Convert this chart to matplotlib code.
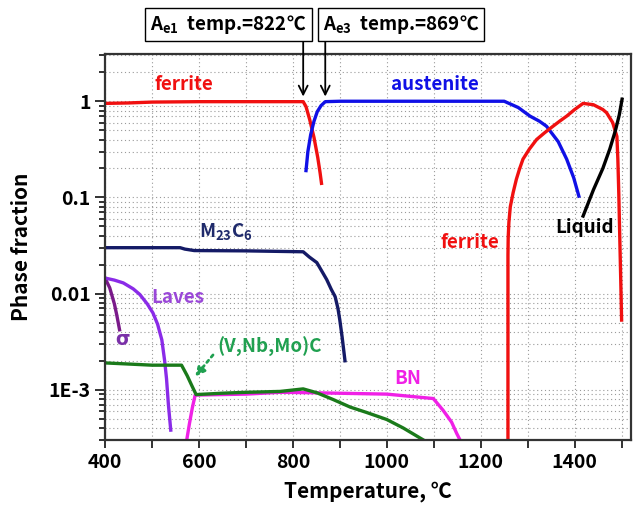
import matplotlib
matplotlib.use('Agg')
import matplotlib.pyplot as plt
from matplotlib.ticker import FixedLocator, LogLocator, NullFormatter, FixedFormatter

plt.rcParams['font.family'] = ['Noto Sans CJK KR', 'DejaVu Sans']
plt.rcParams['font.weight'] = 'bold'
plt.rcParams['mathtext.fontset'] = 'custom'
plt.rcParams['mathtext.rm'] = 'Noto Sans CJK KR:bold'
plt.rcParams['mathtext.bf'] = 'Noto Sans CJK KR:bold'
plt.rcParams['mathtext.it'] = 'Noto Sans CJK KR:bold'

# ---------------- data ----------------
ferrite_low_T = [400, 450, 500, 600, 700, 800, 822, 828, 836, 845, 853, 858, 861]
ferrite_low_f = [0.95, 0.96, 0.98, 0.99, 0.99, 0.99, 0.99, 0.88, 0.64, 0.42, 0.26, 0.18, 0.14]

austenite_T = [828, 832, 838, 845, 852, 860, 869, 900, 1000, 1100, 1200, 1250,
               1280, 1305, 1325, 1340, 1365, 1383, 1398, 1409]
austenite_f = [0.19, 0.3, 0.45, 0.62, 0.78, 0.9, 0.99, 1.0, 1.0, 1.0, 1.0, 1.0,
               0.86, 0.70, 0.62, 0.55, 0.38, 0.25, 0.16, 0.103]

ferrite_high_T = [1258, 1258, 1258, 1258.5, 1260, 1263, 1269, 1276, 1283, 1290, 1304,
                  1319, 1336, 1354, 1368, 1383, 1400, 1418, 1440, 1460, 1468, 1481,
                  1490, 1492, 1494, 1496, 1498, 1500]
ferrite_high_f = [3.0e-4, 0.003, 0.025, 0.038, 0.055, 0.08, 0.112, 0.155, 0.2, 0.25, 0.32,
                  0.4, 0.47, 0.55, 0.62, 0.70, 0.82, 0.95, 0.92, 0.82, 0.76, 0.6,
                  0.43, 0.25, 0.11, 0.04, 0.015, 0.0053]

liquid_T = [1418, 1440, 1460, 1475, 1487, 1495, 1501]
liquid_f = [0.064, 0.12, 0.2, 0.32, 0.5, 0.72, 1.05]

m23c6_T = [400, 560, 570, 590, 700, 822, 835, 851, 862, 872, 882, 890, 896, 900, 905, 911]
m23c6_f = [0.030, 0.030, 0.029, 0.028, 0.0278, 0.0272, 0.024, 0.021, 0.017, 0.014,
           0.011, 0.0093, 0.007, 0.0053, 0.0035, 0.0020]

laves_T = [400, 420, 439, 460, 474, 490, 502, 512, 521, 527, 531, 535, 540]
laves_f = [0.0145, 0.0138, 0.0129, 0.0112, 0.0098, 0.0078, 0.0063, 0.0048, 0.0033,
           0.0020, 0.0013, 0.0007, 0.00038]

sigma_T = [400, 410, 420, 425, 431]
sigma_f = [0.0145, 0.0115, 0.0078, 0.006, 0.0042]

mc_T = [400, 450, 500, 563, 575, 585, 594, 650, 700, 773, 822, 851, 886, 922, 957,
        1000, 1035, 1078]
mc_f = [0.0019, 0.00185, 0.0018, 0.0018, 0.0014, 0.0011, 0.00089, 0.00092, 0.00094,
        0.00096, 0.00102, 0.00093, 0.00079, 0.00066, 0.00058, 0.00049, 0.0004, 0.0003]

bn_T = [574, 580, 586, 592, 700, 773, 843, 1000, 1099, 1120, 1138, 1149, 1156]
bn_f = [0.0003, 0.00045, 0.00065, 0.00088, 0.0009, 0.00094, 0.00093, 0.0009, 0.00081,
        0.00061, 0.00046, 0.00035, 0.0003]

Ae1 = 822
Ae3 = 869

y_major = [1e-3, 1e-2, 1e-1, 1]
y_labels = ['1E-3', '0.01', '0.1', '1']
x_major = [400, 600, 800, 1000, 1200, 1400]
x_minor = [500, 700, 900, 1100, 1300, 1500]

# ---------------- figure ----------------
fig = plt.figure(figsize=(6.39, 5.08), dpi=100)
ax = fig.add_axes([105/639, 1-440/508, (631-105)/639, (440-54)/508])
ax.set_yscale('log')
ax.set_xlim(400, 1520)
ax.set_ylim(3e-4, 3.1)

ax.yaxis.set_major_locator(FixedLocator(y_major))
ax.yaxis.set_major_formatter(FixedFormatter(y_labels))
ax.yaxis.set_minor_locator(LogLocator(base=10, subs=range(2, 10)))
ax.yaxis.set_minor_formatter(NullFormatter())
ax.xaxis.set_major_locator(FixedLocator(x_major))
ax.xaxis.set_minor_locator(FixedLocator(x_minor))

ax.grid(which='both', linestyle=(0, (1, 2.5)), color='#9a9a9a', lw=0.8)
ax.set_axisbelow(True)
ax.tick_params(which='both', direction='out', width=1.3, labelsize=14, colors='#222222')
ax.tick_params(axis='y', which='major', length=7)
ax.tick_params(axis='y', which='minor', length=4)
ax.tick_params(axis='x', which='both', length=6)
for lab in ax.get_xticklabels() + ax.get_yticklabels():
    lab.set_fontweight('bold')
    lab.set_color('black')
for s in ax.spines.values():
    s.set_linewidth(1.6)
    s.set_color('#333333')

lw = 2.4
ax.plot(ferrite_low_T, ferrite_low_f, color='#f01010', lw=lw)
ax.plot(austenite_T, austenite_f, color='#1010e6', lw=lw)
ax.plot(ferrite_high_T, ferrite_high_f, color='#f01010', lw=lw)
ax.plot(liquid_T, liquid_f, color='black', lw=lw)
ax.plot(m23c6_T, m23c6_f, color='#141a66', lw=lw)
ax.plot(sigma_T, sigma_f, color='#7a1a8a', lw=lw)
ax.plot(laves_T, laves_f, color='#8a2be8', lw=lw)
ax.plot(bn_T, bn_f, color='#f020e6', lw=lw)
ax.plot(mc_T, mc_f, color='#1a7a1a', lw=lw)

fs = 13.5
ax.text(568, 1.49, 'ferrite', color='#f01010', fontsize=fs, ha='center', va='center')
ax.text(1103, 1.49, 'austenite', color='#1010e6', fontsize=fs, ha='center', va='center')
ax.text(1177, 0.0337, 'ferrite', color='#f01010', fontsize=fs, ha='center', va='center')
ax.text(1422, 0.0485, 'Liquid', color='black', fontsize=fs, ha='center', va='center')
ax.text(658, 0.043, r'M$_{\mathbf{23}}$C$_{\mathbf{6}}$', color='#1f2a6b', fontsize=fs,
        ha='center', va='center')
ax.text(555, 0.0091, 'Laves', color='#9a48d8', fontsize=fs, ha='center', va='center')
ax.text(438, 0.0033, 'σ', color='#7a30a8', fontsize=fs, ha='center', va='center',
        family=['DejaVu Sans'])
ax.text(751, 0.0028, '(V,Nb,Mo)C', color='#20a050', fontsize=fs, ha='center', va='center')
ax.text(1044, 0.0013, 'BN', color='#f020e6', fontsize=fs, ha='center', va='center')

ax.annotate('', xy=(592, 0.00137), xytext=(630, 0.0023),
            arrowprops=dict(arrowstyle='-|>', linestyle=(0, (1, 1.5)), color='#20a050',
                            lw=2, mutation_scale=14, shrinkA=0, shrinkB=0))

# transformation temperature boxes
fig.text(228.5/639, 1-24.5/508, r'A$_{\mathbf{e1}}$  temp.=822℃', ha='center', va='center',
         fontsize=13.5, bbox=dict(boxstyle='square,pad=0.28', fc='white', ec='black', lw=1))
fig.text(401/639, 1-24.5/508, r'A$_{\mathbf{e3}}$  temp.=869℃', ha='center', va='center',
         fontsize=13.5, bbox=dict(boxstyle='square,pad=0.28', fc='white', ec='black', lw=1))
for T in (Ae1, Ae3):
    ax.annotate('', xy=(T, 1.12), xytext=(T, 4.49),
                arrowprops=dict(arrowstyle='->', color='black', lw=1.3, mutation_scale=16,
                                shrinkA=0, shrinkB=0), annotation_clip=False)

ax.set_xlabel('Temperature, ℃', fontsize=15, fontweight='bold', labelpad=6)
ax.set_ylabel('Phase fraction', fontsize=15, fontweight='bold', labelpad=12)

fig.savefig('out.png', dpi=100, facecolor='white')
